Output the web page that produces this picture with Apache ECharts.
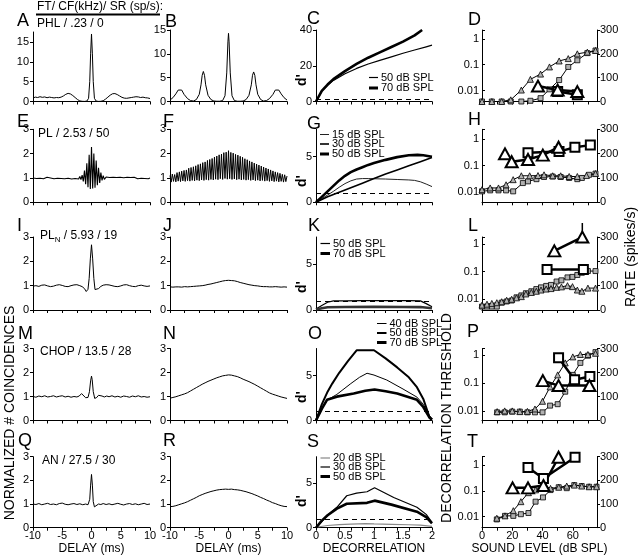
<!DOCTYPE html>
<html><head><meta charset="utf-8">
<script src="https://cdn.jsdelivr.net/npm/echarts@6/dist/echarts.min.js"></script>
<style>html,body{margin:0;padding:0;background:#fff}#c{width:640px;height:556px}</style>
</head><body><div id="c"></div>
<script>
// ---------------- DATA ----------------
// tick labels
const delayLabels = [-10, -5, 0, 5, 10];
const delayTicks = [-10, -7.5, -5, -2.5, 0, 2.5, 5, 7.5, 10];
const decorLabels = [0, 0.5, 1, 1.5, 2];
const decorTicks = [0, 0.2, 0.4, 0.6, 0.8, 1, 1.2, 1.4, 1.6, 1.8, 2];
const levelLabels = [0, 20, 40, 60];
const levelTicks = [0, 10, 20, 30, 40, 50, 60, 70];
const rateTicks = [0, 100, 200, 300];
const thrLabels = ['0.01', '0.1', '1'];
const dPrimeCriterion = 1;

// correlograms [delay ms, normalized coincidences]
const corrA = [[-10,0.9],[-9.6,1.1],[-9.2,1.0],[-8.8,1.2],[-8.4,1.05],[-8,1.15],[-7.6,0.95],[-7.2,1.1],[-6.8,1.0],[-6.4,0.9],[-6,1.0],[-5.6,0.95],[-5.2,1.1],[-4.8,1.4],[-4.4,1.8],[-4.0,2.05],[-3.6,1.9],[-3.2,1.5],[-2.8,1.0],[-2.4,0.5],[-2.0,0.15],[-1.6,0.05],[-1.2,0.02],[-0.8,0.1],[-0.5,0.8],[-0.3,5],[-0.15,12],[0,17],[0.15,12],[0.3,5],[0.5,0.8],[0.8,0.1],[1.2,0.02],[1.6,0.05],[2.0,0.2],[2.4,0.6],[2.8,1.1],[3.2,1.6],[3.6,1.95],[4.0,2.0],[4.4,1.75],[4.8,1.4],[5.2,1.05],[5.6,0.85],[6,0.8],[6.4,0.9],[6.8,1.0],[7.2,1.1],[7.6,1.2],[8,1.15],[8.4,1.0],[8.8,1.1],[9.2,0.95],[9.6,0.9],[10,0.75]];
const corrB = [[-10,0.3],[-9.5,0.8],[-9,1.6],[-8.6,2.4],[-8.3,2.7],[-8,2.4],[-7.6,1.5],[-7,0.6],[-6.5,0.2],[-6,0.1],[-5.5,0.4],[-5,1.5],[-4.7,3.5],[-4.5,5.5],[-4.3,6.3],[-4.1,5.5],[-3.9,3.5],[-3.5,1.3],[-3,0.4],[-2.5,0.1],[-2,0.05],[-1.5,0.05],[-1,0.2],[-0.6,1.2],[-0.3,6],[-0.1,12.5],[0,14.3],[0.1,12.5],[0.3,6],[0.6,1.2],[1,0.2],[1.5,0.05],[2,0.05],[2.5,0.1],[3,0.4],[3.5,1.3],[3.9,3.5],[4.1,5.5],[4.3,6.2],[4.5,5.5],[4.7,3.5],[5,1.5],[5.5,0.4],[6,0.1],[6.5,0.2],[7,0.6],[7.6,1.5],[8,2.4],[8.3,2.7],[8.6,2.4],[9,1.6],[9.5,0.8],[10,0.3]];
const corrE = [[-10,1.0],[-9.7,1.03],[-9.4,0.98],[-9.1,1.02],[-8.8,0.99],[-8.5,1.04],[-8.2,0.97],[-7.9,1.01],[-7.6,1.03],[-7.3,0.98],[-7.0,1.0],[-6.7,1.04],[-6.4,0.97],[-6.1,1.02],[-5.8,0.99],[-5.5,1.03],[-5.2,0.98],[-4.9,1.01],[-4.6,0.97],[-4.3,1.03],[-4.0,0.99],[-3.7,1.02],[-3.4,0.96],[-3.1,1.04],[-2.8,0.98],[-2.5,1.03],[-2.2,0.96],[-2.0,1.06],[-1.8,0.93],[-1.6,1.12],[-1.4,0.86],[-1.2,1.3],[-1.0,0.74],[-0.8,1.6],[-0.6,0.62],[-0.4,1.95],[-0.2,0.55],[0,2.27],[0.2,0.57],[0.4,2.0],[0.6,0.6],[0.8,1.72],[1.0,0.7],[1.2,1.42],[1.4,0.8],[1.6,1.22],[1.8,0.9],[2.0,1.1],[2.2,0.94],[2.5,1.04],[2.8,0.97],[3.1,1.02],[3.4,0.98],[3.7,1.03],[4.0,0.97],[4.3,1.02],[4.6,0.99],[4.9,1.03],[5.2,0.97],[5.5,1.01],[5.8,0.98],[6.1,1.03],[6.4,0.99],[6.7,1.02],[7.0,0.97],[7.3,1.03],[7.6,1.0],[7.9,0.97],[8.2,1.02],[8.5,0.99],[8.8,1.03],[9.1,0.98],[9.4,1.01],[9.7,0.97],[10,1.0]];
const corrF = [[-10,1.10],[-9.8,0.83],[-9.6,1.16],[-9.4,0.86],[-9.2,1.14],[-9,0.84],[-8.8,1.22],[-8.6,0.87],[-8.4,1.25],[-8.2,0.85],[-8,1.28],[-7.8,0.88],[-7.6,1.31],[-7.4,0.86],[-7.2,1.33],[-7,0.89],[-6.8,1.40],[-6.6,0.87],[-6.4,1.43],[-6.2,0.90],[-6,1.46],[-5.8,0.88],[-5.6,1.50],[-5.4,0.91],[-5.2,1.55],[-5,0.89],[-4.8,1.58],[-4.6,0.92],[-4.4,1.63],[-4.2,0.90],[-4,1.66],[-3.8,0.93],[-3.6,1.72],[-3.4,0.91],[-3.2,1.76],[-3,0.94],[-2.8,1.80],[-2.6,0.92],[-2.4,1.86],[-2.2,0.95],[-2,1.90],[-1.8,0.93],[-1.6,1.95],[-1.4,0.97],[-1.2,1.98],[-1,0.94],[-0.8,2.04],[-0.6,0.98],[-0.4,2.06],[-0.2,0.95],[0,2.12],[0.2,0.97],[0.4,2.05],[0.6,0.94],[0.8,2.02],[1,0.96],[1.2,1.97],[1.4,0.93],[1.6,1.94],[1.8,0.95],[2,1.89],[2.2,0.92],[2.4,1.85],[2.6,0.94],[2.8,1.79],[3,0.91],[3.2,1.75],[3.4,0.93],[3.6,1.70],[3.8,0.90],[4,1.66],[4.2,0.92],[4.4,1.61],[4.6,0.89],[4.8,1.57],[5,0.91],[5.2,1.53],[5.4,0.88],[5.6,1.49],[5.8,0.90],[6,1.45],[6.2,0.87],[6.4,1.41],[6.6,0.89],[6.8,1.37],[7,0.86],[7.2,1.33],[7.4,0.88],[7.6,1.29],[7.8,0.85],[8,1.25],[8.2,0.87],[8.4,1.22],[8.6,0.84],[8.8,1.19],[9,0.86],[9.2,1.15],[9.4,0.83],[9.6,1.13],[9.8,0.85],[10,1.08]];
const corrI = [[-10,0.98],[-9.5,1.0],[-9,0.97],[-8.5,1.02],[-8,1.03],[-7.5,0.99],[-7,0.96],[-6.5,0.98],[-6,1.02],[-5.5,1.04],[-5,1.01],[-4.5,0.97],[-4,0.96],[-3.5,1.0],[-3,1.03],[-2.5,1.04],[-2,1.0],[-1.6,0.96],[-1.2,0.88],[-0.9,0.76],[-0.6,0.85],[-0.4,1.3],[-0.2,2.1],[0,2.68],[0.2,2.1],[0.4,1.3],[0.6,0.84],[0.85,0.77],[1.2,0.88],[1.6,0.97],[2,1.02],[2.5,1.04],[3,1.03],[3.5,1.0],[4,0.97],[4.5,0.96],[5,0.99],[5.5,1.03],[6,1.04],[6.5,1.0],[7,0.97],[7.5,0.96],[8,1.0],[8.5,1.02],[9,0.99],[9.5,0.97],[10,0.99]];
const corrJ = [[-10,0.95],[-9.5,0.94],[-9,0.95],[-8.5,0.95],[-8,0.94],[-7.5,0.96],[-7,0.95],[-6.5,0.96],[-6,0.97],[-5.5,0.98],[-5,0.99],[-4.5,1.0],[-4,1.02],[-3.5,1.05],[-3,1.07],[-2.5,1.1],[-2,1.13],[-1.5,1.16],[-1,1.19],[-0.5,1.21],[0,1.22],[0.5,1.21],[1,1.2],[1.5,1.17],[2,1.13],[2.5,1.1],[3,1.07],[3.5,1.04],[4,1.02],[4.5,1.0],[5,0.99],[5.5,0.97],[6,0.96],[6.5,0.96],[7,0.95],[7.5,0.95],[8,0.96],[8.5,0.95],[9,0.94],[9.5,0.95],[10,0.94]];
const corrM = [[-10,1.0],[-9.5,0.97],[-9,1.02],[-8.5,0.99],[-8,1.03],[-7.5,0.98],[-7,1.0],[-6.5,1.03],[-6,0.98],[-5.5,1.01],[-5,1.03],[-4.5,0.98],[-4,1.01],[-3.5,0.97],[-3,1.0],[-2.5,0.98],[-2.1,1.02],[-1.7,1.12],[-1.4,1.04],[-1.0,0.95],[-0.6,0.96],[-0.35,1.2],[-0.15,1.65],[0,1.85],[0.12,1.7],[0.3,1.2],[0.55,0.92],[0.9,0.96],[1.2,1.05],[1.45,1.11],[1.8,1.02],[2.2,0.98],[2.6,1.02],[3,0.99],[3.5,1.03],[4,0.98],[4.5,1.01],[5,0.97],[5.5,1.02],[6,1.0],[6.5,0.97],[7,1.02],[7.5,0.99],[8,1.03],[8.5,0.98],[9,1.0],[9.5,0.97],[10,0.99]];
const corrN = [[-10,0.93],[-9.5,0.96],[-9,0.99],[-8.5,1.03],[-8,1.07],[-7.5,1.11],[-7,1.16],[-6.5,1.23],[-6,1.3],[-5.5,1.37],[-5,1.44],[-4.5,1.51],[-4,1.57],[-3.5,1.63],[-3,1.68],[-2.5,1.73],[-2,1.78],[-1.5,1.82],[-1,1.86],[-0.5,1.88],[0,1.9],[0.5,1.89],[1,1.86],[1.5,1.83],[2,1.78],[2.5,1.72],[3,1.67],[3.5,1.62],[4,1.56],[4.5,1.5],[5,1.43],[5.5,1.36],[6,1.29],[6.5,1.22],[7,1.15],[7.5,1.1],[8,1.06],[8.5,1.02],[9,0.98],[9.5,0.95],[10,0.92]];
const corrQ = [[-10,1.0],[-9.5,0.98],[-9,1.02],[-8.5,0.97],[-8,1.0],[-7.5,1.03],[-7,0.98],[-6.5,1.0],[-6,0.97],[-5.5,1.02],[-5,1.04],[-4.5,0.99],[-4,0.97],[-3.5,1.0],[-3,1.02],[-2.5,0.98],[-2,1.01],[-1.5,0.97],[-1,1.0],[-0.6,0.97],[-0.3,1.2],[-0.15,1.8],[0,2.25],[0.15,1.8],[0.3,1.1],[0.5,0.88],[0.8,0.95],[1.2,1.0],[1.6,0.98],[2,1.02],[2.5,0.98],[3,1.01],[3.5,0.97],[4,1.0],[4.5,1.03],[5,0.99],[5.5,0.96],[6,1.0],[6.5,1.02],[7,0.98],[7.5,1.01],[8,0.97],[8.5,1.0],[9,1.03],[9.5,0.98],[10,1.0]];
const corrR = [[-10,0.89],[-9.5,0.9],[-9,0.93],[-8.5,0.97],[-8,1.01],[-7.5,1.05],[-7,1.1],[-6.5,1.16],[-6,1.22],[-5.5,1.28],[-5,1.35],[-4.5,1.4],[-4,1.45],[-3.5,1.49],[-3,1.53],[-2.5,1.56],[-2,1.59],[-1.5,1.61],[-1,1.62],[-0.5,1.63],[0,1.62],[0.5,1.63],[1,1.61],[1.5,1.6],[2,1.58],[2.5,1.55],[3,1.52],[3.5,1.48],[4,1.44],[4.5,1.39],[5,1.34],[5.5,1.28],[6,1.23],[6.5,1.17],[7,1.12],[7.5,1.06],[8,1.02],[8.5,0.97],[9,0.93],[9.5,0.9],[10,0.89]];

// d' vs decorrelation
const dC50 = [[0,0],[0.1,5.8],[0.2,9],[0.3,11.8],[0.5,15.5],[0.7,18.5],[0.9,21],[1.1,23],[1.3,25],[1.5,27],[1.7,28.8],[1.9,30.6],[2.0,31.5]];
const dC70 = [[0,0],[0.1,6],[0.2,9.5],[0.3,12.5],[0.5,17],[0.7,21],[0.9,24.5],[1.1,27.5],[1.3,30.5],[1.5,33.5],[1.7,37],[1.83,40]];
const dG15 = [[0,0],[0.1,0.4],[0.2,0.8],[0.3,1.2],[0.4,1.65],[0.5,2.05],[0.6,2.35],[0.7,2.55],[0.8,2.6],[0.9,2.6],[1.0,2.58],[1.2,2.55],[1.4,2.5],[1.6,2.45],[1.7,2.4],[1.8,2.25],[1.9,2.0],[2.0,1.72]];
const dG30 = [[0,0],[0.1,0.3],[0.2,0.6],[0.3,0.85],[0.4,1.1],[0.6,1.6],[0.8,2.1],[1.0,2.6],[1.2,3.1],[1.4,3.55],[1.6,4.0],[1.8,4.45],[2.0,4.9]];
const dG50 = [[0,0],[0.1,0.6],[0.2,1.2],[0.3,1.8],[0.4,2.4],[0.5,2.9],[0.6,3.3],[0.7,3.6],[0.8,3.85],[0.9,4.1],[1.0,4.3],[1.2,4.65],[1.4,4.95],[1.6,5.15],[1.75,5.2],[1.85,5.15],[2.0,5.0]];
const dK50 = [[0,0.1],[0.1,0.5],[0.2,0.85],[0.3,1.0],[0.5,1.0],[0.8,1.02],[1.0,1.03],[1.3,1.02],[1.6,1.03],[1.8,1.0],[1.9,0.7],[2.0,0.35]];
const dK70 = [[0,0.05],[0.1,0.2],[0.2,0.3],[0.5,0.33],[1.0,0.35],[1.5,0.33],[1.8,0.32],[2.0,0.2]];
const dO40 = [[0,0],[0.1,1.3],[0.2,2.3],[0.36,2.9],[0.5,3.6],[0.6,4.1],[0.75,4.8],[0.88,5.25],[1.0,5.05],[1.22,4.5],[1.5,3.5],[1.74,2.6],[1.85,1.8],[1.95,0.6],[2.0,0.2]];
const dO50 = [[0,0],[0.1,1.8],[0.2,3.2],[0.28,4.1],[0.4,5.3],[0.55,6.6],[0.7,7.8],[1.0,7.8],[1.2,6.9],[1.4,5.9],[1.6,4.8],[1.74,3.7],[1.85,2.4],[1.96,0.3],[2.0,0.1]];
const dO70 = [[0,0],[0.1,1.3],[0.19,2.3],[0.36,2.65],[0.65,3.0],[0.85,3.3],[1.01,3.45],[1.2,3.25],[1.4,3.0],[1.74,2.3],[1.85,1.5],[1.96,0.3],[2.0,0.1]];
const dS20 = [[0,0.05],[0.2,0.25],[0.4,0.35],[0.6,0.4],[0.85,0.45],[1.0,0.42],[1.3,0.38],[1.6,0.33],[1.8,0.3],[2.0,0.15]];
const dS30 = [[0,0],[0.1,0.7],[0.2,1.4],[0.36,2.3],[0.53,3.6],[0.7,3.9],[0.88,4.05],[1.01,4.5],[1.34,3.4],[1.74,2.3],[1.9,1.5],[2.0,0.6]];
const dS50 = [[0,0],[0.1,0.8],[0.2,1.4],[0.36,2.15],[0.53,2.7],[0.88,2.8],[1.01,3.05],[1.3,2.6],[1.74,1.8],[1.9,1.2],[2.0,0.5]];

// rate (sp/s) and decorrelation threshold vs sound level (dB SPL)
const dRateTri = [[0,0],[6.5,0],[13,0],[19,7],[26,48],[32,93],[38.7,115],[44.6,145],[51,170],[57,180],[63,200],[69.6,207],[75,214]];
const dRateSq = [[0,0],[6.5,0],[13,0],[19,0],[26,0],[32,3],[38.7,14],[44.6,51],[51,90],[57,145],[63,173],[69.6,203],[75,214]];
const dThrTri = [[37,0.015],[50,0.0105],[63,0.0092]];
const dThrSq = [[50,0.0092],[63,0.0069]];
const hRateTri = [[0,52],[5.4,59],[10.9,59],[15.9,72],[20.6,93],[26,109],[31.5,109],[37,110],[41,113],[46.7,109],[52,109],[57.6,106],[63,106],[69,110],[75,118]];
const hRateSq = [[0,45],[5.4,49],[10.9,49],[15.9,49],[20.6,45],[27,79],[30.4,86],[36,95],[41,104],[46.7,106],[52,104],[57.6,100],[63,95],[66,100],[70.7,113],[75,118]];
const hThrTri = [[15.2,0.28],[19.6,0.14],[30.4,0.17],[40.2,0.25],[50.6,0.5]];
const hThrSq = [[30.4,0.31],[50.9,0.34],[61.4,0.5],[71.6,0.6]];
const lRateTri = [[0,20],[3.3,24],[6.5,27],[9.8,30],[13,34],[16.3,40],[19.6,44],[22.8,50],[26,55],[29,66],[32.6,72],[35.9,77],[39,82],[42.4,86],[45.6,88],[49.3,93],[52.5,95],[56.5,100],[59.8,96],[63,82],[66,77],[70,90],[75,90]];
const lRateSq = [[0,14],[3.3,14],[6.5,14],[9.8,14],[13,30],[16.3,35],[19.6,39],[22.8,52],[26,60],[29,69],[32.6,77],[35.9,86],[39,93],[42.4,99],[45.6,103],[49.3,117],[52.5,122],[56.5,134],[59.8,136],[63,144],[66,153],[70,160],[75,160]];
const lThrTri = [[47.8,0.58],[66.3,1.85]];
const lThrSq = [[43,0.12],[67,0.12]];
const lThrErr = [[66.3,1.85],[66.3,6]];
const pRateTri = [[10,37],[15,40],[20,40],[25,37],[30,38],[35,48],[40,80],[45,140],[50,190],[55,240],[60,265],[65,275],[70,275],[75,280]];
const pRateSq = [[10,34],[15,34],[20,37],[25,37],[30,34],[35,34],[40,34],[45,62],[50,68],[55,120],[60,190],[65,240],[70,270],[75,285]];
const pThrTri = [[40.2,0.12],[50.6,0.08],[71,0.08]];
const pThrSq = [[50.6,0.8],[61.2,0.13],[71.3,0.17]];
const tRateTri = [[9.8,40],[15.2,50],[20.7,72],[25.7,110],[30.7,148],[35.4,160],[40.3,176],[45.3,166],[50.7,171],[56,176],[61,180],[65.9,176],[70.8,173],[75.7,173]];
const tRateSq = [[9.8,35],[15.2,50],[20.7,50],[25.7,57],[30.7,62],[35.4,110],[40.3,128],[45.3,159],[50.7,171],[56,167],[61,180],[65.9,176],[70.8,173],[75.7,173]];
const tThrTri = [[20.2,0.13],[30.4,0.13],[40.6,0.16],[50.6,2.0]];
const tThrSq = [[30.4,0.8],[40.6,0.3],[61.5,2.0]];

// ---------------- LAYOUT ----------------
const FF = '"Liberation Sans", Arial, Helvetica, sans-serif';
const K = '#000';
const COLS = [{l:33,w:117},{l:170,w:117},{l:316,w:116},{l:482,w:115}];
const ROWS = [{t:30,b:101.5},{t:129.3,b:202.3},{t:237,b:310},{t:348.5,b:420.5},{t:456.7,b:527.7}];
const LOGEXT = [[0.0038,2.2],[0.004,2.4],[0.004,1.86],[0.0045,1.7],[0.0037,2.1]];

const grids = [], xAxes = [], yAxes = [], series = [], graphics = [];
function line() { return {show:true, onZero:false, lineStyle:{color:K, width:1}}; }
function makeGrid(col, row, top) {
  const c = COLS[col], r = ROWS[row]; const t = top != null ? top : r.t;
  grids.push({left:c.l, top:t, width:c.w, height:r.b - t, containLabel:false, outerBoundsMode:'none'});
  return grids.length - 1;
}
function lineS(gi, yi, data, width, color, z) {
  return {type:'line', xAxisIndex:gi, yAxisIndex:yi, data, symbol:'none', showSymbol:false,
    lineStyle:{color:color || K, width:width}, silent:true, animation:false, z:z || 2};
}
function xName(text) {
  return {name:text, nameLocation:'middle', nameGap:14, nameTextStyle:{color:K, fontFamily:FF, fontSize:12}};
}

function corrPanel(col, row, data, yMax, yTicks, yInt, top, w) {
  const gi = makeGrid(col, row, top); const last = row === 4;
  xAxes.push(Object.assign({type:'value', gridIndex:gi, min:-10, max:10, interval:2.5,
    axisLine:line(), axisTick:{show:true, length:3, customValues:delayTicks, lineStyle:{color:K}},
    axisLabel:{show:last, margin:3, color:K, fontFamily:FF, fontSize:11, customValues:delayLabels,
      formatter:v => delayLabels.indexOf(v) >= 0 ? String(v) : ''},
    splitLine:{show:false}}, last ? xName('DELAY (ms)') : {}));
  yAxes.push({type:'value', gridIndex:gi, min:0, max:yMax, interval:yInt,
    axisLine:line(), axisTick:{show:true, length:3, customValues:yTicks, lineStyle:{color:K}},
    axisLabel:{margin:4, color:K, fontFamily:FF, fontSize:11, customValues:yTicks,
      formatter:v => yTicks.indexOf(v) >= 0 ? String(v) : ''},
    splitLine:{show:false}});
  series.push(lineS(gi, yAxes.length - 1, data, w || 1));
}

function decorPanel(row, yMax, yTicks, yInt, curves) {
  const gi = makeGrid(2, row); const last = row === 4;
  xAxes.push(Object.assign({type:'value', gridIndex:gi, min:0, max:2, interval:0.2,
    axisLine:line(), axisTick:{show:true, length:3, customValues:decorTicks, lineStyle:{color:K}},
    axisLabel:{show:last, margin:3, color:K, fontFamily:FF, fontSize:11, customValues:decorLabels,
      formatter:v => decorLabels.indexOf(v) >= 0 ? String(v) : ''},
    splitLine:{show:false}}, last ? xName('DECORRELATION') : {}));
  yAxes.push({type:'value', gridIndex:gi, min:0, max:yMax, interval:yInt,
    axisLine:line(), axisTick:{show:true, length:3, customValues:yTicks, lineStyle:{color:K}},
    axisLabel:{margin:4, color:K, fontFamily:FF, fontSize:11, customValues:yTicks,
      formatter:v => yTicks.indexOf(v) >= 0 ? String(v) : ''},
    splitLine:{show:false}});
  const yi = yAxes.length - 1;
  curves.forEach((c, i) => {
    const s = lineS(gi, yi, c.data, c.w, c.color, 3);
    if (i === 0) s.markLine = {silent:true, symbol:'none', label:{show:false}, animation:false,
      lineStyle:{type:[5,4], color:K, width:1}, data:[{yAxis:dPrimeCriterion}]};
    series.push(s);
  });
}

function levelPanel(row, rTri, rSq, tTri, tSq, err) {
  const gi = makeGrid(3, row); const last = row === 4;
  xAxes.push(Object.assign({type:'value', gridIndex:gi, min:0, max:76, interval:10,
    axisLine:line(), axisTick:{show:true, length:3, customValues:levelTicks, lineStyle:{color:K}},
    axisLabel:{show:last, margin:3, color:K, fontFamily:FF, fontSize:11, customValues:levelLabels,
      formatter:v => levelLabels.indexOf(v) >= 0 ? String(v) : ''},
    splitLine:{show:false}}, last ? xName('SOUND LEVEL (dB SPL)') : {}));
  yAxes.push({type:'log', gridIndex:gi, logBase:10, min:LOGEXT[row][0], max:LOGEXT[row][1],
    axisLine:line(), axisTick:{show:true, length:3, inside:true, lineStyle:{color:K}},
    axisLabel:{margin:3, color:K, fontFamily:FF, fontSize:11,
      formatter:v => { const l = Math.log10(v), r = Math.round(l);
        return (Math.abs(l - r) < 0.02 && r >= -2 && r <= 0) ? thrLabels[r + 2] : ''; }},
    splitLine:{show:false}});
  const yl = yAxes.length - 1;
  yAxes.push({type:'value', gridIndex:gi, position:'right', min:0, max:300, interval:100,
    axisLine:line(), axisTick:{show:true, length:3, customValues:rateTicks, lineStyle:{color:K}},
    axisLabel:{margin:3, color:K, fontFamily:FF, fontSize:11}, splitLine:{show:false}});
  const yr = yAxes.length - 1;
  const small = (data, sym, size) => ({type:'line', xAxisIndex:gi, yAxisIndex:yr, data, symbol:sym, symbolSize:size,
    showSymbol:true, lineStyle:{color:K, width:1}, itemStyle:{color:'#b0b0b0', borderColor:K, borderWidth:0.8},
    silent:true, animation:false, z:3});
  const big = (data, sym, size) => ({type:'line', xAxisIndex:gi, yAxisIndex:yl, data, symbol:sym, symbolSize:size,
    showSymbol:true, lineStyle:{color:K, width:2.5}, itemStyle:{color:'#fff', borderColor:K, borderWidth:2},
    silent:true, animation:false, z:5});
  series.push(small(rSq, 'rect', 5), small(rTri, 'triangle', 6));
  if (err) series.push(Object.assign(lineS(gi, yl, err, 1.5, K, 4), {clip:false}));
  series.push(big(tSq, 'rect', 9), big(tTri, 'triangle', [12, 11]));
}

// build panels
corrPanel(0, 0, corrA, 17.5, [0,5,10,15], 5, 32);
corrPanel(1, 0, corrB, 15, [0,5,10,15], 5);
decorPanel(0, 40, [0,20,40], 20, [{data:dC50, w:1.2}, {data:dC70, w:2.6}]);
levelPanel(0, dRateTri, dRateSq, dThrTri, dThrSq);

corrPanel(0, 1, corrE, 3, [0,1,2,3], 1, null, 1.1);
corrPanel(1, 1, corrF, 3, [0,1,2,3], 1, null, 1);
decorPanel(1, 8, [0,5], 5, [{data:dG15, w:1, color:'#222'}, {data:dG30, w:1.6}, {data:dG50, w:2.6}]);
levelPanel(1, hRateTri, hRateSq, hThrTri, hThrSq);

corrPanel(0, 2, corrI, 3, [0,1,2,3], 1);
corrPanel(1, 2, corrJ, 3, [0,1,2,3], 1);
decorPanel(2, 8, [0,5], 5, [{data:dK50, w:1.2}, {data:dK70, w:2.6, color:'#333'}]);
levelPanel(2, lRateTri, lRateSq, lThrTri, lThrSq, lThrErr);

corrPanel(0, 3, corrM, 3, [0,1,2,3], 1);
corrPanel(1, 3, corrN, 3, [0,1,2,3], 1);
decorPanel(3, 8, [0,5], 5, [{data:dO40, w:1}, {data:dO50, w:2}, {data:dO70, w:2.6}]);
levelPanel(3, pRateTri, pRateSq, pThrTri, pThrSq);

corrPanel(0, 4, corrQ, 3, [0,1,2,3], 1);
corrPanel(1, 4, corrR, 3, [0,1,2,3], 1);
decorPanel(4, 8, [0,5], 5, [{data:dS20, w:1.2, color:'#888'}, {data:dS30, w:1.2}, {data:dS50, w:2.6}]);
levelPanel(4, tRateTri, tRateSq, tThrTri, tThrSq);

// ---------------- TEXT ----------------
function txt(x, y, text, size, opts) {
  opts = opts || {};
  graphics.push({type:'text', x, y, rotation:opts.rot || 0, silent:true, z:10,
    style:{text, fill:K, font:(opts.weight || 'normal') + ' ' + size + 'px ' + FF,
      textAlign:opts.align || 'left', textVerticalAlign:opts.valign || 'middle', rich:opts.rich}});
}
function seg(x1, y1, x2, y2, w, color) {
  graphics.push({type:'line', silent:true, z:10, shape:{x1, y1, x2, y2}, style:{stroke:color || K, lineWidth:w}});
}
const letters = [['A',17,20],['B',165,21],['C',307,18.5],['D',468,19],
  ['E',17,121.5],['F',163,121.5],['G',307,123.5],['H',468,119],
  ['I',17,225],['J',163,225],['K',308,225],['L',468,225],
  ['M',18,333.5],['N',163,333.5],['O',308,333.5],['P',467,331.5],
  ['Q',18,440.5],['R',163,440],['S',307,441.5],['T',467,441]];
letters.forEach(l => txt(l[1], l[2] + 1, l[0], 18));

txt(37, 7, 'FT/ CF(kHz)/ SR (sp/s):', 12);
seg(36, 14.5, 160, 14.5, 2);
txt(37, 24, 'PHL / .23 / 0', 12);
txt(38, 134, 'PL / 2.53 / 50', 12);
txt(40, 236, '{a|PL}{b|N}{a| / 5.93 / 19}', 12, {rich:{a:{fontSize:12, fontFamily:FF, fill:K, lineHeight:16, verticalAlign:'middle'},
  b:{fontSize:8, fontFamily:FF, fill:K, lineHeight:16, verticalAlign:'bottom', padding:[0,0,0,0]}}});
txt(40, 352, 'CHOP / 13.5 / 28', 12);
txt(42, 461, 'AN / 27.5 / 30', 12);

// d' labels
[80, 181, 287, 397, 501].forEach(y => txt(302, y, "d'", 14, {rot:Math.PI / 2, align:'center', weight:'bold'}));

// legends in column C
function leg(x1, x2, y, w, label, color) { seg(x1, y, x2, y, w, color); txt(x2 + 3, y, label, 11); }
leg(369, 378, 77.5, 1.2, '50 dB SPL'); leg(369, 378, 88, 3, '70 dB SPL');
leg(320, 329, 134.5, 1, '15 dB SPL', '#222'); leg(320, 329, 144, 1.6, '30 dB SPL'); leg(320, 329, 154, 3, '50 dB SPL');
leg(320.5, 330, 243.5, 1.2, '50 dB SPL'); leg(320.5, 330, 253.5, 3, '70 dB SPL');
leg(377, 386.5, 323.5, 1, '40 dB SPL'); leg(377, 386.5, 333, 2, '50 dB SPL'); leg(377, 386.5, 342.5, 3, '70 dB SPL');
leg(320.5, 330, 458, 1.2, '20 dB SPL', '#888'); leg(320.5, 330, 467, 1.2, '30 dB SPL'); leg(320.5, 330, 476.5, 3, '50 dB SPL');

// vertical axis titles
txt(10, 413, 'NORMALIZED # COINCIDENCES', 14, {rot:Math.PI / 2, align:'center'});
txt(447, 418, 'DECORRELATION THRESHOLD', 14, {rot:Math.PI / 2, align:'center'});
txt(631, 257, 'RATE (spikes/s)', 14, {rot:Math.PI / 2, align:'center'});

const chart = echarts.init(document.getElementById('c'), null, {renderer:'canvas'});
chart.setOption({animation:false, backgroundColor:'#fff', grid:grids, xAxis:xAxes, yAxis:yAxes, series, graphic:graphics});
</script></body></html>
